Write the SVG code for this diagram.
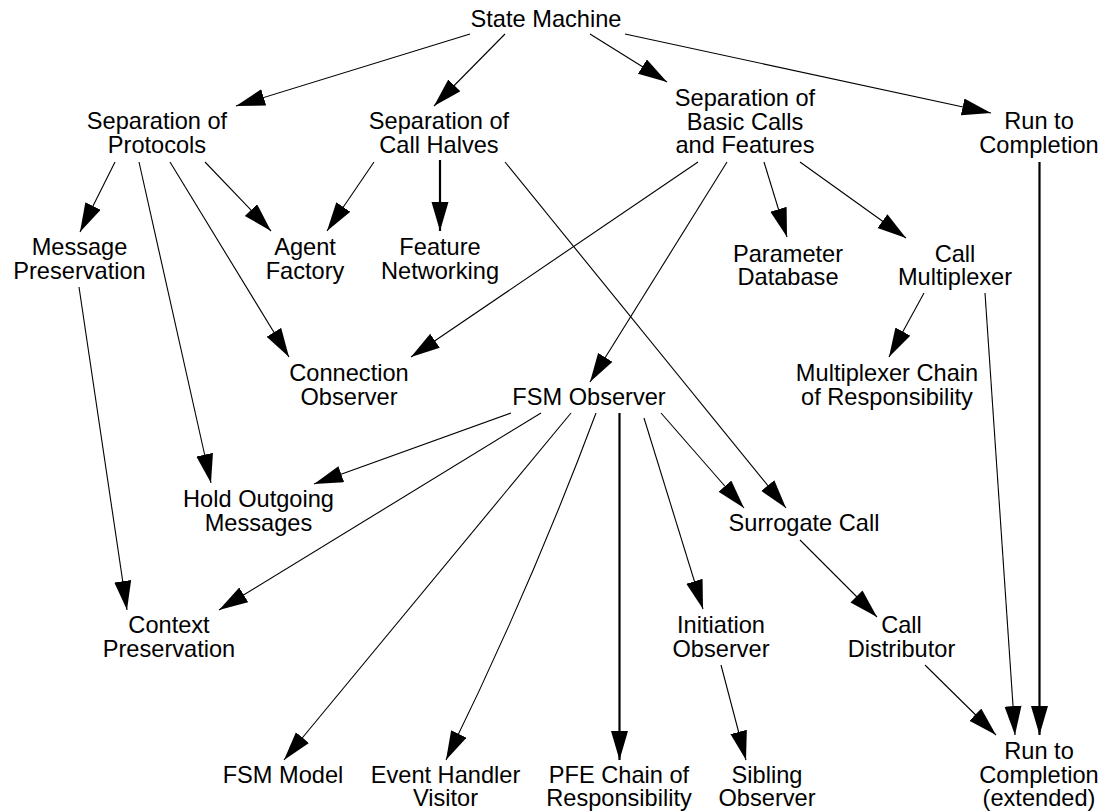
<svg xmlns="http://www.w3.org/2000/svg" width="1102" height="812" viewBox="0 0 1102 812">
<defs>
<style>
text{font-family:"Liberation Sans",Arial,Helvetica,sans-serif;font-size:23.6px;fill:#000;text-anchor:middle}
.e{stroke:#000;stroke-width:1.1;fill:none;marker-end:url(#ah)}
.t{stroke-width:2.2}
</style>
<marker id="ah" markerUnits="userSpaceOnUse" markerWidth="31" markerHeight="19" refX="29" refY="8.5" orient="auto">
<path d="M0,0 L29,8.5 L0,17 Z" fill="#000"/>
</marker>
</defs>
<rect width="1102" height="812" fill="#fff"/>
<g id="edges">
<line class="e" x1="470" y1="34" x2="236" y2="106"/>
<line class="e" x1="505" y1="34" x2="434" y2="106"/>
<line class="e" x1="590" y1="34" x2="667" y2="82"/>
<line class="e" x1="625" y1="34" x2="991" y2="113"/>
<line class="e" x1="115" y1="162" x2="80" y2="232"/>
<line class="e" x1="139" y1="162" x2="211" y2="483"/>
<line class="e" x1="170" y1="162" x2="289" y2="357"/>
<line class="e" x1="205" y1="162" x2="271" y2="231"/>
<line class="e" x1="374" y1="162" x2="327" y2="231"/>
<line class="e t" x1="440" y1="160" x2="440" y2="231"/>
<line class="e" x1="505" y1="162" x2="786" y2="508"/>
<line class="e" x1="698" y1="162" x2="411" y2="357"/>
<line class="e" x1="727" y1="162" x2="590" y2="382"/>
<line class="e" x1="764" y1="162" x2="787" y2="237"/>
<line class="e" x1="800" y1="162" x2="906" y2="238"/>
<line class="e t" x1="1039.5" y1="162" x2="1039.5" y2="735"/>
<line class="e" x1="79" y1="287" x2="127" y2="610"/>
<line class="e" x1="924" y1="293" x2="889" y2="357"/>
<line class="e" x1="985" y1="293" x2="1015" y2="735"/>
<line class="e" x1="511" y1="413" x2="314" y2="484"/>
<line class="e" x1="541" y1="413" x2="219" y2="610"/>
<line class="e" x1="571" y1="413" x2="284" y2="760"/>
<path class="e" d="M596,413 Q531,587 446,760"/>
<line class="e t" x1="619.5" y1="413" x2="619.5" y2="760"/>
<line class="e" x1="644" y1="418" x2="703" y2="609"/>
<line class="e" x1="661" y1="413" x2="744" y2="508"/>
<line class="e" x1="800" y1="540" x2="877" y2="617"/>
<line class="e" x1="721" y1="665" x2="746" y2="760"/>
<line class="e" x1="925" y1="665" x2="996" y2="735"/>
</g>
<g id="sm"><text x="546" y="27">State Machine</text></g>
<g id="sp"><text x="157" y="129">Separation of</text><text x="157" y="153">Protocols</text></g>
<g id="sch"><text x="439" y="129">Separation of</text><text x="439" y="153">Call Halves</text></g>
<g id="sbc"><text x="745" y="106">Separation of</text><text x="745" y="129.5">Basic Calls</text><text x="745" y="153">and Features</text></g>
<g id="rtc"><text x="1039" y="129">Run to</text><text x="1039" y="153">Completion</text></g>
<g id="mp"><text x="79.5" y="255">Message</text><text x="79.5" y="278.5">Preservation</text></g>
<g id="af"><text x="305" y="255">Agent</text><text x="305" y="278.5">Factory</text></g>
<g id="fn"><text x="440" y="255">Feature</text><text x="440" y="278.5">Networking</text></g>
<g id="pd"><text x="788" y="261.5">Parameter</text><text x="788" y="285">Database</text></g>
<g id="cm"><text x="955" y="261.5">Call</text><text x="955" y="285">Multiplexer</text></g>
<g id="co"><text x="349" y="381">Connection</text><text x="349" y="404.5">Observer</text></g>
<g id="fsm"><text x="589" y="405">FSM Observer</text></g>
<g id="mcr"><text x="887" y="381">Multiplexer Chain</text><text x="887" y="404.5">of Responsibility</text></g>
<g id="hom"><text x="258.5" y="507">Hold Outgoing</text><text x="258.5" y="530.5">Messages</text></g>
<g id="sc"><text x="804" y="530.5">Surrogate Call</text></g>
<g id="cp"><text x="169" y="633">Context</text><text x="169" y="656.5">Preservation</text></g>
<g id="io"><text x="721" y="633">Initiation</text><text x="721" y="656.5">Observer</text></g>
<g id="cd"><text x="901.5" y="633">Call</text><text x="901.5" y="656.5">Distributor</text></g>
<g id="fm"><text x="283" y="782.5">FSM Model</text></g>
<g id="eh"><text x="445.5" y="782.5">Event Handler</text><text x="445.5" y="806">Visitor</text></g>
<g id="pfe"><text x="619" y="782.5">PFE Chain of</text><text x="619" y="806">Responsibility</text></g>
<g id="so"><text x="767" y="782.5">Sibling</text><text x="767" y="806">Observer</text></g>
<g id="rtce"><text x="1039" y="759">Run to</text><text x="1039" y="782.5">Completion</text><text x="1039" y="806">(extended)</text></g>
</svg>
